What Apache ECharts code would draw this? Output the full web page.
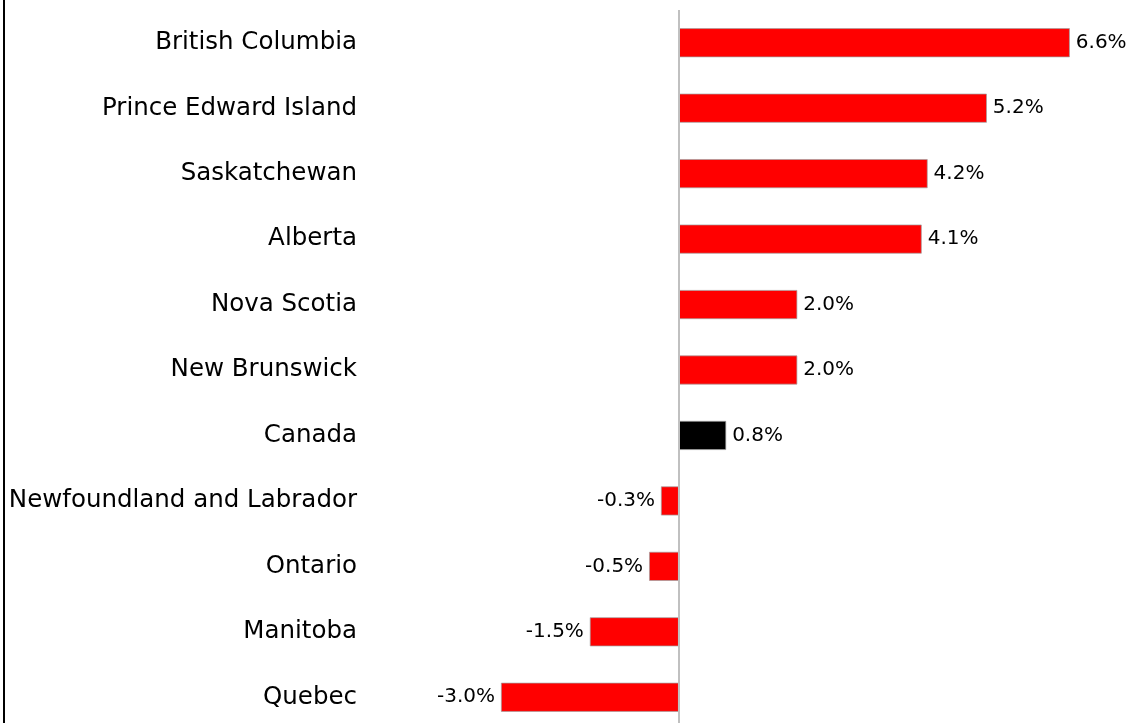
<!DOCTYPE html>
<html>
<head>
<meta charset="utf-8">
<script src="https://cdn.jsdelivr.net/npm/echarts@6/dist/echarts.min.js"></script>
<style>
html,body{margin:0;padding:0;background:#fff;overflow:hidden;}
#chart{width:1137px;height:731px;}
</style>
</head>
<body>
<div id="chart"></div>
<script>
const categories = ["British Columbia","Prince Edward Island","Saskatchewan","Alberta","Nova Scotia","New Brunswick","Canada","Newfoundland and Labrador","Ontario","Manitoba","Quebec"];
const values = [6.6, 5.2, 4.2, 4.1, 2.0, 2.0, 0.8, -0.3, -0.5, -1.5, -3.0];
const highlight = "Canada";

const chart = echarts.init(document.getElementById('chart'));
const data = values.map((v, i) => ({
  value: v,
  itemStyle: { color: categories[i] === highlight ? '#000000' : '#ff0000' },
  label: { position: v < 0 ? 'left' : 'right' }
}));
chart.setOption({
  animation: false,
  backgroundColor: '#fff',
  grid: { left: 501, width: 592.5, top: 10, height: 720, containLabel: false },
  xAxis: {
    type: 'value', min: -3, max: 7, show: false
  },
  yAxis: {
    type: 'category', data: categories, inverse: true,
    axisLine: { show: false }, axisTick: { show: false },
    axisLabel: { margin: 144, fontSize: 24.5, color: '#000', fontFamily: 'DejaVu Sans', padding: [4, 0, 0, 0] }
  },
  graphic: [{
    type: 'line', shape: { x1: 4, y1: 0, x2: 4, y2: 731 },
    style: { stroke: '#000', lineWidth: 2 }
  }],
  series: [{
    type: 'bar', data: data, barWidth: 29,
    itemStyle: { borderColor: '#a0a0a0', borderWidth: 0.7 },
    label: {
      show: true, distance: 6, fontSize: 20, color: '#000', fontFamily: 'DejaVu Sans',
      formatter: p => p.value.toFixed(1) + '%'
    },
    markLine: {
      silent: true, symbol: 'none', label: { show: false },
      lineStyle: { color: '#c0c0c0', width: 2, type: 'solid' },
      data: [{ xAxis: 0 }]
    }
  }]
});
</script>
</body>
</html>
